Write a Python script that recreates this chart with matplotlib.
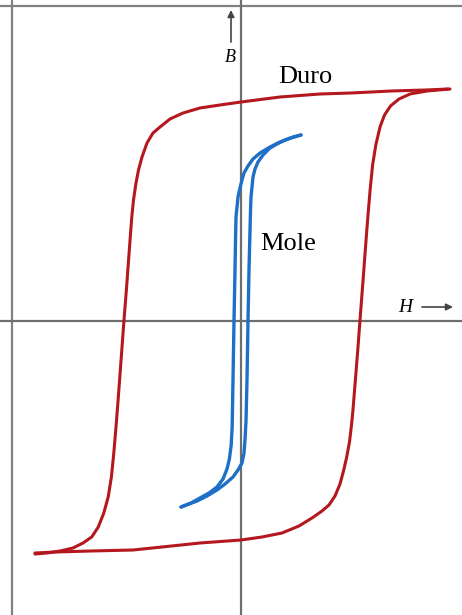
import matplotlib
matplotlib.use("Agg")
import matplotlib.pyplot as plt

# Hysteresis loops (H, B) in drawing units; origin at the axes crossing.
# Hard ("Duro") material: descending branch from +saturation to -saturation
duro_down_H = [207, 185, 150, 110, 79, 39, 0, -21, -41, -58, -71, -81, -88,
               -94, -99, -102.5, -105, -107.5, -109.2, -110.2, -112.5, -114.7,
               -117, -120, -122.9, -125, -127.2, -129.6, -132.8, -137.2,
               -142.7, -149.3, -158, -168, -181, -194, -206]
duro_down_B = [232, 231, 230, 228, 227, 224, 219, 216, 213, 208, 202, 194, 188,
               178, 164, 151, 138, 121, 104, 91, 60, 30, 1, -40, -79, -106,
               -132, -156, -176, -192, -206, -216, -222, -227, -230, -232,
               -233]
# ascending branch from -saturation back to +saturation
duro_up_H = [-206, -185, -150, -108, -79, -41, 0, 21, 41, 58, 71, 81, 88, 94,
             99, 102.5, 105.5, 108.5, 110.5, 111.8, 114.3, 116.7, 119, 122,
             124.9, 127, 129.2, 131.6, 134.8, 139, 143.5, 149.5, 158, 169, 186,
             209]
duro_up_B = [-232, -231, -230, -229, -226, -222, -219, -216, -212, -205, -197,
             -190, -184, -175, -163, -150, -137, -121, -104, -91, -60, -30, 1,
             40, 79, 106, 132, 156, 176, 194, 206, 215, 222, 227, 230, 232]

# Soft ("Mole") material
mole_down_H = [60, 50, 39, 29, 19, 12, 7, 3, 1, -1, -3, -4, -5, -5.5, -6, -7,
               -8, -8.8, -9.8, -11.6, -14, -18, -24, -32, -41, -50, -60]
mole_down_B = [186, 183, 179, 174, 168, 162, 155, 148, 141, 133, 124, 114, 104,
               80, 51, 0, -59, -105, -124, -138, -148, -158, -166, -172, -177,
               -182, -186]
mole_up_H = [-60, -52, -44, -34, -24, -16, -8, -3, 1, 3, 4, 5, 6, 7, 8, 9, 9.5,
             10, 12, 14, 17, 22, 29, 36, 44, 52, 60]
mole_up_B = [-186, -183, -180, -175, -169, -163, -156, -149, -142, -132, -119,
             -100, -59, 0, 51, 90, 110, 124, 144, 152, 159, 166, 173, 177, 181,
             184, 186]

RED = "#b5171f"
BLUE = "#1e6fc7"
GRAY = "#6e6e6e"

fig = plt.figure(figsize=(4.62, 6.15), dpi=100)
ax = fig.add_axes([0, 0, 1, 1])
ax.set_xlim(-241, 221)
ax.set_ylim(-294, 321)
ax.set_axis_off()

# outer frame (left and top edges)
ax.axvline(-229, color="#808080", lw=1.6)
ax.axhline(315, color="#808080", lw=1.6)

# H and B axes
ax.axhline(0, color=GRAY, lw=1.6)
ax.axvline(0, color=GRAY, lw=1.6)

line_kw = dict(solid_joinstyle="round", solid_capstyle="round")
ax.plot(duro_down_H, duro_down_B, color=RED, lw=2.2, **line_kw)
ax.plot(duro_up_H, duro_up_B, color=RED, lw=2.2, **line_kw)
ax.plot(mole_down_H, mole_down_B, color=BLUE, lw=2.4, **line_kw)
ax.plot(mole_up_H, mole_up_B, color=BLUE, lw=2.4, **line_kw)

serif = ["Liberation Serif", "DejaVu Serif"]
ax.text(64, 244, "Duro", fontsize=19, family=serif, ha="center", va="center")
ax.text(47, 77, "Mole", fontsize=19, family=serif, ha="center", va="center")
ax.text(-11, 263, "B", fontsize=13, family=serif, style="italic",
        ha="center", va="center")
ax.text(164, 14, "H", fontsize=14, family=serif, style="italic",
        ha="center", va="center")

# axis direction arrows
ax.annotate("", xy=(-10, 311), xytext=(-10, 279),
            arrowprops=dict(arrowstyle="-|>", color="#444444", lw=1.2,
                            mutation_scale=10, shrinkA=0, shrinkB=0))
ax.annotate("", xy=(212, 14), xytext=(181, 14),
            arrowprops=dict(arrowstyle="-|>", color="#444444", lw=1.2,
                            mutation_scale=10, shrinkA=0, shrinkB=0))

fig.savefig("out.png", dpi=100)
